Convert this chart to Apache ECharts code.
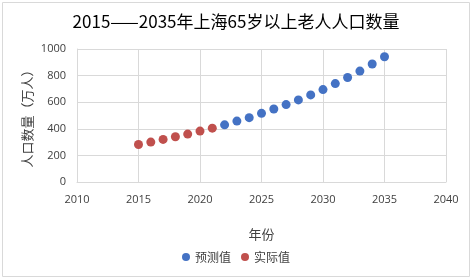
<!DOCTYPE html>
<html>
<head>
<meta charset="utf-8">
<script src="https://cdn.jsdelivr.net/npm/echarts@6/dist/echarts.min.js"></script>
<style>
  html, body { margin: 0; padding: 0; background: #fff; }
  #box { width: 472px; height: 278px; }
</style>
</head>
<body>
<div id="box"></div>
<script>
// 实际值 2015-2021
var actualYears = [2015, 2016, 2017, 2018, 2019, 2020, 2021]
var actualValues = [282, 300, 320, 340, 360, 383, 405]

// 预测值 2022-2035
var predictYears = [2022, 2023, 2024, 2025, 2026, 2027, 2028, 2029, 2030, 2031, 2032, 2033, 2034, 2035]
var predictValues = [430, 458, 484, 516, 549, 582, 617, 655, 695, 740, 786, 834, 887, 942]

function pairs(xs, ys) {
  return xs.map(function (x, i) { return [x, ys[i]] })
}

// 不要千分位
function plain(v) {
  return String(v)
}

var cjk = '"Noto Sans CJK SC", sans-serif'
var latin = '"Open Sans", "Liberation Sans", sans-serif'

var myChart = echarts.init(document.getElementById('box'))
myChart.setOption({
  animation: false,
  title: {
    text: '2015——2035年上海65岁以上老人人口数量',
    left: 'center',
    top: 8,
    textStyle: { color: '#000', fontSize: 17, fontWeight: 'normal', fontFamily: cjk }
  },
  legend: {
    data: ['预测值', '实际值'],
    bottom: 10,
    left: 'center',
    icon: 'circle',
    itemWidth: 8,
    itemHeight: 8,
    itemGap: 10,
    textStyle: { color: '#404040', fontSize: 12, fontFamily: cjk }
  },
  graphic: [{
    type: 'rect',
    shape: { x: 2.5, y: 2.5, width: 467, height: 274 },
    style: { fill: 'none', stroke: '#d9d9d9', lineWidth: 1 },
    silent: true
  }],
  grid: { left: 77, right: 26, top: 49, bottom: 96 },
  xAxis: {
    type: 'value',
    min: 2010,
    max: 2040,
    interval: 5,
    name: '年份',
    nameLocation: 'middle',
    nameGap: 46,
    nameMoveOverlap: false,
    nameTextStyle: { color: '#404040', fontSize: 13, fontFamily: cjk },
    axisLine: { show: true, lineStyle: { color: '#d9d9d9' } },
    axisTick: { show: false },
    axisLabel: { color: '#404040', fontSize: 11, margin: 12, fontFamily: latin, formatter: plain },
    splitLine: { show: true, lineStyle: { color: '#d9d9d9' } }
  },
  yAxis: {
    type: 'value',
    min: 0,
    max: 1000,
    interval: 200,
    name: '人口数量（万人）',
    nameLocation: 'middle',
    nameRotate: 90,
    nameGap: 43,
    nameMoveOverlap: false,
    nameTextStyle: { color: '#404040', fontSize: 13, fontFamily: cjk },
    axisLine: { show: true, lineStyle: { color: '#d9d9d9' } },
    axisTick: { show: false },
    axisLabel: { color: '#404040', fontSize: 11, margin: 11, fontFamily: latin, formatter: plain },
    splitLine: { show: true, lineStyle: { color: '#d9d9d9' } }
  },
  series: [
    {
      name: '预测值',
      type: 'scatter',
      symbolSize: 9,
      itemStyle: { color: '#4472c4', opacity: 1 },
      data: pairs(predictYears, predictValues)
    },
    {
      name: '实际值',
      type: 'scatter',
      symbolSize: 9,
      itemStyle: { color: '#c0504d', opacity: 1 },
      data: pairs(actualYears, actualValues)
    }
  ]
})
</script>
</body>
</html>
